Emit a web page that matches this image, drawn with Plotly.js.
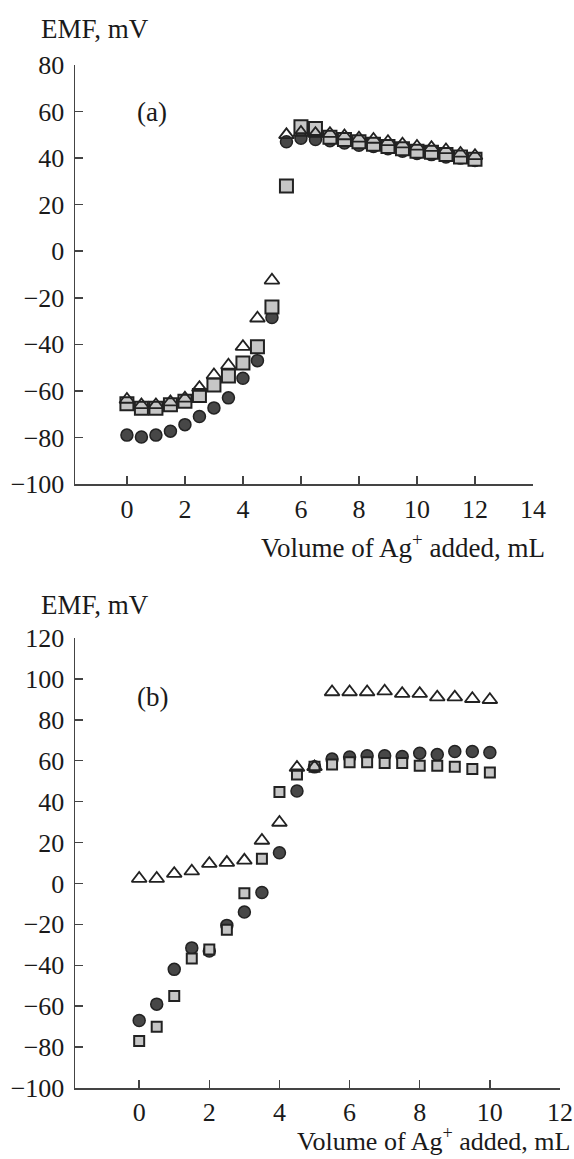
<!DOCTYPE html>
<html>
<head>
<meta charset="utf-8">
<script src="https://cdn.plot.ly/plotly-3.0.1.min.js"></script>
<style>html,body{margin:0;padding:0;background:#fff;}#chart{width:574px;height:1159px;}</style>
</head>
<body>
<div id="chart"></div>
<script>
// ---------- Panel (a) data ----------
const xA = [0,0.5,1,1.5,2,2.5,3,3.5,4,4.5,5,5.5,6,6.5,7,7.5,8,8.5,9,9.5,10,10.5,11,11.5,12];
const aCircle = [-79,-79.8,-79,-77.3,-74.5,-71,-67.3,-63,-54.6,-47,-28.5,47,48.5,48,47.5,46.5,45.5,45,44,43,42,41.5,40.5,40,39];
const aSquare = [-65.5,-67.5,-67.5,-66,-64.4,-62,-57.5,-53.6,-48,-41,-24,28,53.5,52.7,49,48,47,46,45,44,43,42.5,41.5,40.5,39.5];
const aTriangle = [-63.7,-66,-66,-64.8,-63.2,-58.6,-53.2,-49,-41,-28.8,-12.5,50,51,50.5,50.5,49.5,48.5,48,47,46,45,44.5,43.5,42,41];
// ---------- Panel (b) data ----------
const xB = [0,0.5,1,1.5,2,2.5,3,3.5,4,4.5,5,5.5,6,6.5,7,7.5,8,8.5,9,9.5,10];
const bCircle = [-67,-59,-42,-31.5,-33,-20.5,-14,-4.4,15,45.2,57,60.8,61.8,62.4,62.4,62.1,63.7,63,64.5,64.5,64];
const bSquare = [-77,-70,-55,-36.7,-32.3,-22.6,-4.8,12.1,44.7,53.3,57,58.1,59.2,59.2,58.9,58.9,57.6,57.6,57,56,54.3];
const bTriangle = [2.4,2.4,4.8,6,9.7,10.2,11.3,21,29.8,56.7,57,93.6,93.6,93.6,94,92.8,92.8,91.1,91.1,90.3,89.8];
// ---------- Tick labels ----------
const xTicksA = [0,2,4,6,8,10,12,14];
const yTicksA = [-100,-80,-60,-40,-20,0,20,40,60,80];
const xTicksB = [0,2,4,6,8,10,12];
const yTicksB = [-100,-80,-60,-40,-20,0,20,40,60,80,100,120];
const yTitle = 'EMF, mV';
const xTitle = 'Volume of Ag<sup>+</sup> added, mL';

const W = 574, H = 1159;
const px = v => v / W;
const py = v => 1 - v / H;
const FONT = 'Liberation Serif, Times New Roman, serif';
const INK = '#1a1a1a';
const AX = '#444';

const circ = (s) => ({symbol:'circle', size:s, color:'#474747', line:{color:'#222', width:1.5}});
const sq = (s) => ({symbol:'square', size:s, color:'#c6c6c6', line:{color:'#222', width:2}});
const tri = (s) => ({symbol:'triangle-up', size:s, color:'rgba(255,255,255,0)', line:{color:'#222', width:1.8}});

const data = [
  {x:xA, y:aCircle, xaxis:'x', yaxis:'y', mode:'markers', type:'scatter', marker:circ(12), cliponaxis:false},
  {x:xA, y:aSquare, xaxis:'x', yaxis:'y', mode:'markers', type:'scatter', marker:sq(13), cliponaxis:false},
  {x:xA, y:aTriangle, xaxis:'x', yaxis:'y', mode:'markers', type:'scatter', marker:tri(13), cliponaxis:false},
  {x:xB, y:bCircle, xaxis:'x2', yaxis:'y2', mode:'markers', type:'scatter', marker:circ(12), cliponaxis:false},
  {x:xB, y:bSquare, xaxis:'x2', yaxis:'y2', mode:'markers', type:'scatter', marker:sq(10), cliponaxis:false},
  {x:xB, y:bTriangle, xaxis:'x2', yaxis:'y2', mode:'markers', type:'scatter', marker:tri(13), cliponaxis:false}
];

const axisCommon = {
  showline:true, linecolor:AX, linewidth:1.5, showgrid:false, zeroline:false,
  ticks:'inside', ticklen:8, tickwidth:1.5, tickcolor:AX,
  tickfont:{family:FONT, size:26, color:INK}, fixedrange:true
};

const titleFont = {family:FONT, size:27, color:INK};
const titleFontB = {family:FONT, size:26, color:INK};

const layout = {
  width:W, height:H, margin:{l:0, r:0, t:0, b:0},
  paper_bgcolor:'#fff', plot_bgcolor:'#fff', showlegend:false,
  xaxis: Object.assign({}, axisCommon, {domain:[px(75), px(533)], range:[-1.79,14], tickvals:xTicksA, ticktext:xTicksA.map(String), anchor:'y', ticklabelstandoff:1}),
  yaxis: Object.assign({}, axisCommon, {domain:[py(484), py(65)], range:[-100,80], tickvals:yTicksA, anchor:'x', ticklabelstandoff:4}),
  xaxis2: Object.assign({}, axisCommon, {domain:[px(75), px(560)], range:[-1.83,12], tickvals:xTicksB, ticktext:xTicksB.map(String), anchor:'y2', ticklabelstandoff:0}),
  yaxis2: Object.assign({}, axisCommon, {domain:[py(1088), py(638)], range:[-100,120], tickvals:yTicksB, anchor:'x2', ticklabelstandoff:4}),
  annotations: [
    {text:yTitle, xref:'paper', yref:'paper', x:px(39), y:py(29), xanchor:'left', yanchor:'middle', showarrow:false, font:titleFont},
    {text:xTitle, xref:'paper', yref:'paper', x:px(547), y:py(546), xanchor:'right', yanchor:'middle', showarrow:false, font:titleFont},
    {text:'(a)', xref:'paper', yref:'paper', x:px(152), y:py(112), xanchor:'center', yanchor:'middle', showarrow:false, font:titleFont},
    {text:yTitle, xref:'paper', yref:'paper', x:px(39), y:py(605), xanchor:'left', yanchor:'middle', showarrow:false, font:titleFont},
    {text:xTitle, xref:'paper', yref:'paper', x:px(572), y:py(1158), xanchor:'right', yanchor:'bottom', showarrow:false, font:titleFontB},
    {text:'(b)', xref:'paper', yref:'paper', x:px(152), y:py(697), xanchor:'center', yanchor:'middle', showarrow:false, font:titleFont}
  ]
};

Plotly.newPlot('chart', data, layout, {staticPlot:true, displayModeBar:false});
</script>
</body>
</html>
